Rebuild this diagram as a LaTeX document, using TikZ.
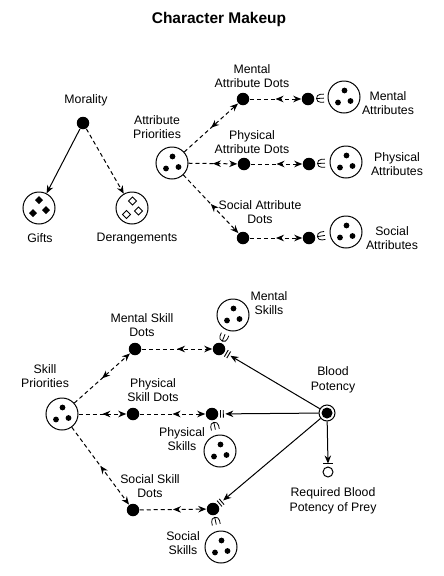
\documentclass[tikz,border=0pt]{standalone}
\usepackage{fontspec}
\setmainfont{Liberation Sans}
\usetikzlibrary{arrows.meta,decorations.markings,calc}
\newcommand\lblfont{\fontsize{12.3}{14.5}\selectfont}
\newcommand\ttlfont{\fontsize{15.5}{18}\selectfont\bfseries}
\newcommand\threedots{%
  \fill (path picture bounding box.center) ++(0.5,-6.5) circle[radius=2.9pt];
  \fill (path picture bounding box.center) ++(-6,5.5) circle[radius=2.9pt];
  \fill (path picture bounding box.center) ++(6.5,4) circle[radius=2.9pt];}
\newcommand\dmdpath[2]{(path picture bounding box.center) ++(#1,#2) ++(0,-4) -- ++(4,4) -- ++(-4,4) -- ++(-4,-4) -- cycle}
\begin{document}
\begin{tikzpicture}[x=1pt,y=-1pt,line width=1pt,
  >={Stealth[length=8pt,width=6.5pt]},
  every node/.style={inner sep=0pt},
  lbl/.style={align=center,font=\lblfont},
  bigdot/.style={circle,fill,minimum size=12.5pt},
  setc/.style={circle,draw,minimum size=32pt,path picture={\threedots}},
  giftc/.style={circle,draw,minimum size=32pt,path picture={\fill \dmdpath{0}{-8}; \fill \dmdpath{-6}{5}; \fill \dmdpath{7}{2};}},
  derc/.style={circle,draw,minimum size=32pt,path picture={\draw[line width=0.8pt] \dmdpath{0.5}{-7}; \draw[line width=0.8pt] \dmdpath{-5.5}{6.5}; \draw[line width=0.8pt] \dmdpath{6.5}{3};}},
  dsh/.style={dash pattern=on 4pt off 3pt},
  midrev/.style={postaction={decorate,decoration={markings,mark=at position 0.5 with {\arrowreversed{Stealth[length=8pt,width=6.5pt]}}}}},
  dmid/.style={draw,dsh,->,midrev},
  elem/.style={postaction={decorate,decoration={markings,mark=at position 12.5pt with {\draw[solid,line width=0.8pt] (3.5pt,4pt) -- (0pt,4pt) arc[start angle=90,end angle=270,radius=4pt] -- (3.5pt,-4pt) (-4pt,0pt) -- (3.5pt,0pt);}}}},
  bars/.style={postaction={decorate,decoration={markings,
     mark=at position 8.5pt with {\draw[solid,line width=0.9pt] (0,-3.8pt) -- (0,3.8pt);},
     mark=at position 11.3pt with {\draw[solid,line width=0.9pt] (0,-3.8pt) -- (0,3.8pt);}}}}
]
\useasboundingbox (0,0) rectangle (444,576);

\node[font=\ttlfont] (title) at (219,19) {Character Makeup};

% ---- top part
\node[bigdot] (mor) at (83,123) {};
\node[lbl] (morl) at (86,100) {Morality};
\node[giftc] (gifts) at (39,208) {};
\node[lbl] (giftsl) at (40,238) {Gifts};
\node[derc] (der) at (132,208) {};
\node[lbl] (derl) at (137,239) {Derangements};
\draw[->] (mor) -- (gifts);
\draw[->,dsh] (mor) -- (der);

\node[setc] (ap) at (172,163) {};
\node[lbl] (apl) at (157,127) {Attribute\\Priorities};

\node[bigdot] (mad) at (243,99) {};
\node[bigdot] (madr) at (308,99) {};
\node[setc] (mac) at (344,97) {};
\node[lbl] (madl) at (252,76) {Mental\\Attribute Dots};
\node[lbl] (macl) at (388,103) {Mental\\Attributes};

\node[bigdot] (pad) at (244,164) {};
\node[bigdot] (padr) at (309,164) {};
\node[setc] (pac) at (346,162) {};
\node[lbl] (padl) at (252,142) {Physical\\Attribute Dots};
\node[lbl] (pacl) at (397,164) {Physical\\Attributes};

\node[bigdot] (sad) at (243,238) {};
\node[bigdot] (sadr) at (309,238) {};
\node[setc] (sac) at (346,232) {};
\node[lbl] (sadl) at (260,212) {Social Attribute\\Dots};
\node[lbl] (sacl) at (392,238) {Social\\Attributes};

\draw[dmid] (ap) -- (mad);
\draw[dmid] (ap) -- (pad);
\draw[dmid] (ap) -- (sad);
\draw[dmid] (mad) -- (madr);
\draw[dmid] (pad) -- (padr);
\draw[dmid] (sad) -- (sadr);
\path[elem] (madr.center) -- (mac.center);
\path[elem] (padr.center) -- (pac.center);
\path[elem] (sadr.center) -- (sac.center);

% ---- bottom part
\node[setc] (sp) at (62,414) {};
\node[lbl] (spl) at (45,376) {Skill\\Priorities};

\node[bigdot] (msd) at (135,349) {};
\node[bigdot] (msdr) at (219,349) {};
\node[setc] (msc) at (233,315) {};
\node[lbl] (msdl) at (142,325) {Mental Skill\\Dots};
\node[lbl] (mscl) at (269,303) {Mental\\Skills};

\node[bigdot] (psd) at (133,414) {};
\node[bigdot] (psdr) at (212,414) {};
\node[setc] (psc) at (220,451) {};
\node[lbl] (psdl) at (153,390) {Physical\\Skill Dots};
\node[lbl] (pscl) at (182,439) {Physical\\Skills};

\node[bigdot] (ssd) at (133,510) {};
\node[bigdot] (ssdr) at (213,509) {};
\node[setc] (ssc) at (221,547) {};
\node[lbl] (ssdl) at (150,486) {Social Skill\\Dots};
\node[lbl] (sscl) at (183,543) {Social\\Skills};

\draw[dmid] (sp) -- (msd);
\draw[dmid] (sp) -- (psd);
\draw[dmid] (sp) -- (ssd);
\draw[dmid] (msd) -- (msdr);
\draw[dmid] (psd) -- (psdr);
\draw[dmid] (ssd) -- (ssdr);
\path[elem] (msdr.center) -- (msc.center);
\path[elem] (psdr.center) -- (psc.center);
\path[elem] (ssdr.center) -- (ssc.center);

\node[circle,draw,minimum size=16pt,path picture={\fill (path picture bounding box.center) circle[radius=5.5pt];}] (bp) at (327,413) {};
\node[lbl] (bpl) at (333,380) {Blood\\Potency};

\coordinate (mtip) at ($(msdr.center)!13.3pt!(bp.center)$);
\coordinate (ptip) at ($(psdr.center)!13.3pt!(bp.center)$);
\coordinate (stip) at ($(ssdr.center)!13.3pt!(bp.center)$);
\draw[->] (bp) -- (mtip);
\draw[->] (bp) -- (ptip);
\draw[->] (bp) -- (stip);
\path[bars] (msdr.center) -- (bp.center);
\path[bars] (psdr.center) -- (bp.center);
\path[bars] (ssdr.center) -- (bp.center);

\node[circle,draw,minimum size=10pt] (req) at (328,472) {};
\coordinate (reqbar) at (328,463.5);
\coordinate (reqbarl) at (323,463.5);
\coordinate (reqbarr) at (333,463.5);
\draw (reqbarl) -- (reqbarr);
\draw[->] (bp) -- (reqbar);
\node[lbl] (reql) at (333,501) {Required Blood\\Potency of Prey};
\end{tikzpicture}
\end{document}
